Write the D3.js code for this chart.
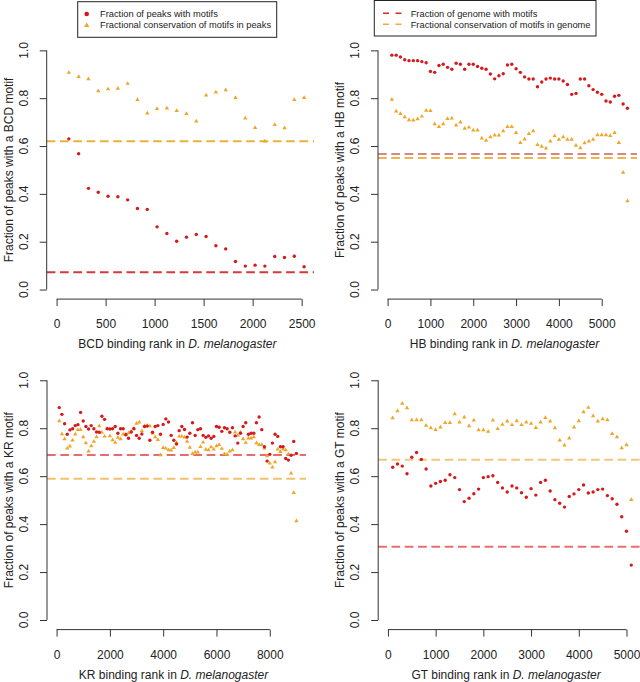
<!DOCTYPE html>
<html><head><meta charset="utf-8">
<script src="https://cdn.jsdelivr.net/npm/d3@7"></script>
<style>
body{margin:0;background:#fff}
svg{display:block}
text{font-family:"Liberation Sans",Arial,Helvetica,sans-serif;fill:#222}
</style>
</head><body>
<svg id="c" width="640" height="682"></svg>
<script>
// ---------------- DATA ----------------
const bcdRank = [125,225,325,425,525,625,725,825,925,1025,1125,1225,1325,1425,1525,1625,1725,1825,1925,2025,2125,2225,2325,2425,2525];
const bcdFrac = [0.630,0.568,0.423,0.407,0.390,0.388,0.375,0.339,0.335,0.262,0.234,0.202,0.219,0.230,0.222,0.183,0.170,0.117,0.098,0.102,0.098,0.138,0.134,0.139,0.095];
const bcdCons = [0.907,0.890,0.880,0.830,0.838,0.841,0.861,0.794,0.737,0.756,0.758,0.748,0.735,0.704,0.812,0.825,0.834,0.802,0.716,0.676,0.620,0.689,0.675,0.794,0.802];

const hbRank = [100,200,300,400,500,600,700,800,900,1000,1100,1200,1300,1400,1500,1600,1700,1800,1900,2000,2100,2200,2300,2400,2500,2600,2700,2800,2900,3000,3100,3200,3300,3400,3500,3600,3700,3800,3900,4000,4100,4200,4300,4400,4500,4600,4700,4800,4900,5000,5100,5200,5300,5400,5500,5600];
const hbFrac = [0.980,0.980,0.972,0.961,0.957,0.957,0.957,0.953,0.948,0.912,0.908,0.937,0.942,0.929,0.921,0.946,0.942,0.921,0.942,0.942,0.933,0.925,0.921,0.901,0.881,0.894,0.902,0.939,0.942,0.923,0.908,0.889,0.880,0.880,0.848,0.868,0.880,0.884,0.880,0.880,0.872,0.857,0.816,0.820,0.880,0.880,0.852,0.836,0.825,0.816,0.788,0.784,0.808,0.812,0.776,0.758];
const hbCons = [0.795,0.745,0.735,0.721,0.709,0.708,0.713,0.724,0.749,0.748,0.692,0.681,0.692,0.714,0.716,0.687,0.699,0.673,0.678,0.666,0.666,0.633,0.623,0.638,0.645,0.645,0.663,0.681,0.681,0.656,0.614,0.628,0.651,0.663,0.605,0.598,0.591,0.620,0.642,0.627,0.638,0.627,0.627,0.602,0.592,0.613,0.620,0.627,0.646,0.646,0.646,0.643,0.656,0.614,0.489,0.370];

const krRank = [100,200,300,400,500,600,700,800,900,1000,1100,1200,1300,1400,1500,1600,1700,1800,1900,2000,2100,2200,2300,2400,2500,2600,2700,2800,2900,3000,3100,3200,3300,3400,3500,3600,3700,3800,3900,4000,4100,4200,4300,4400,4500,4600,4700,4800,4900,5000,5100,5200,5300,5400,5500,5600,5700,5800,5900,6000,6100,6200,6300,6400,6500,6600,6700,6800,6900,7000,7100,7200,7300,7400,7500,7600,7700,7800,7900,8000,8100,8200,8300,8400,8500,8600,8700,8800,8900,9000];
const krFrac = [0.886,0.858,0.819,0.775,0.793,0.798,0.811,0.815,0.866,0.830,
                0.807,0.797,0.811,0.798,0.784,0.783,0.850,0.837,0.798,0.797,
                0.798,0.807,0.779,0.798,0.798,0.773,0.758,0.784,0.798,0.770,
                0.758,0.776,0.807,0.809,0.750,0.783,0.807,0.811,0.775,0.816,
                0.839,0.826,0.770,0.750,0.734,0.790,0.807,0.795,0.763,0.779,
                0.823,0.770,0.794,0.798,0.770,0.762,0.768,0.758,0.766,0.807,
                0.804,0.787,0.802,0.798,0.783,0.802,0.768,0.738,0.779,0.807,
                0.823,0.775,0.779,0.779,0.823,0.847,0.794,0.723,0.663,0.691,
                0.738,0.775,0.766,0.723,0.723,0.674,0.667,0.687,0.745,0.695];
const krCons = [0.830,0.776,0.755,0.716,0.725,0.750,0.775,0.794,0.794,0.763,
                0.738,0.704,0.726,0.745,0.763,0.809,0.782,0.766,0.798,0.768,
                0.751,0.740,0.761,0.755,0.775,0.775,0.780,0.786,0.800,0.820,
                0.825,0.789,0.809,0.811,0.809,0.779,0.763,0.752,0.688,0.719,
                0.716,0.709,0.708,0.719,0.740,0.766,0.766,0.762,0.745,0.720,
                0.694,0.700,0.700,0.723,0.741,0.711,0.709,0.722,0.712,0.726,
                0.731,0.715,0.693,0.690,0.704,0.709,0.783,0.770,0.783,0.755,
                0.740,0.758,0.758,0.763,0.738,0.731,0.731,0.716,0.684,0.654,
                0.637,0.659,0.712,0.702,0.712,0.709,0.693,0.612,0.531,0.413];

const gtRank = [100,200,300,400,500,600,700,800,900,1000,1100,1200,1300,1400,1500,1600,1700,1800,1900,2000,2100,2200,2300,2400,2500,2600,2700,2800,2900,3000,3100,3200,3300,3400,3500,3600,3700,3800,3900,4000,4100,4200,4300,4400,4500,4600,4700,4800,4900,5000,5100];
const gtFrac = [0.637,0.651,0.642,0.610,0.679,0.699,0.670,0.630,0.559,0.570,
                0.578,0.583,0.606,0.594,0.544,0.494,0.508,0.527,0.546,0.594,
                0.598,0.602,0.574,0.551,0.534,0.559,0.551,0.531,0.512,0.548,
                0.521,0.574,0.583,0.538,0.502,0.487,0.471,0.515,0.526,0.544,
                0.563,0.530,0.534,0.544,0.546,0.519,0.506,0.483,0.431,0.370,0.229];
const gtCons = [0.843,0.872,0.903,0.884,0.834,0.834,0.834,0.811,0.801,0.794,
                0.804,0.823,0.823,0.859,0.825,0.846,0.809,0.833,0.793,0.793,
                0.786,0.833,0.798,0.816,0.829,0.814,0.830,0.814,0.825,0.820,
                0.802,0.825,0.844,0.829,0.801,0.750,0.729,0.758,0.804,0.830,
                0.868,0.886,0.851,0.829,0.839,0.834,0.777,0.763,0.718,0.730,0.502];

// genome-wide reference levels [fraction of genome with motifs, fractional conservation in genome]
const bcdGenome = [0.072, 0.620];
const hbGenome  = [0.567, 0.550];
const krGenome  = [0.688, 0.589];
const gtGenome  = [0.306, 0.669];

const bcdTicks = [0,500,1000,1500,2000,2500];
const hbTicks  = [0,1000,2000,3000,4000,5000];
const krTicks  = [0,2000,4000,6000,8000];
const gtTicks  = [0,1000,2000,3000,4000,5000];
const yTicks   = [0,0.2,0.4,0.6,0.8,1.0];

const factors = ["BCD","HB","KR","GT"];
const legendPoints = ["Fraction of peaks with motifs","Fractional conservation of motifs in peaks"];
const legendLines  = ["Fraction of genome with motifs","Fractional conservation of motifs in genome"];

// ---------------- DRAWING ----------------
const svg = d3.select("#c");
const RED = "#d7191c", ORANGE = "#efa526";

const panels = [
  {name:factors[0], rank:bcdRank, frac:bcdFrac, cons:bcdCons, genome:bcdGenome, ticks:bcdTicks,
   x0:46.7, x1:314, y0:299.1, y1:40.8, redLine:"#d43a3a", yelLine:"#e8b23c"},
  {name:factors[1], rank:hbRank, frac:hbFrac, cons:hbCons, genome:hbGenome, ticks:hbTicks,
   x0:378, x1:637, y0:299.1, y1:40.8, redLine:"#da8585", yelLine:"#e9b650"},
  {name:factors[2], rank:krRank, frac:krFrac, cons:krCons, genome:krGenome, ticks:krTicks,
   x0:47, x1:306, y0:629.6, y1:370.7, redLine:"#e86a6a", yelLine:"#f4c070"},
  {name:factors[3], rank:gtRank, frac:gtFrac, cons:gtCons, genome:gtGenome, ticks:gtTicks,
   x0:378.2, x1:641, y0:629.6, y1:370.7, redLine:"#e87070", yelLine:"#f2c878"}
];

const tri = d3.symbol().type(d3.symbolTriangle).size(8);

panels.forEach(p => {
  const xmax = d3.max(p.rank);
  const x = d3.scaleLinear().domain([-0.04*xmax, 1.04*xmax]).range([p.x0, p.x1]);
  const y = d3.scaleLinear().domain([-0.04, 1.04]).range([p.y0, p.y1]);
  const g = svg.append("g");

  // genome reference lines
  g.append("line").attr("x1", p.x0).attr("x2", Math.min(p.x1,640))
    .attr("y1", y(p.genome[0])).attr("y2", y(p.genome[0]))
    .attr("stroke", p.redLine).attr("stroke-width", 2).attr("stroke-dasharray", "8.7 4.6");
  g.append("line").attr("x1", p.x0).attr("x2", Math.min(p.x1,640))
    .attr("y1", y(p.genome[1])).attr("y2", y(p.genome[1]))
    .attr("stroke", p.yelLine).attr("stroke-width", 2).attr("stroke-dasharray", "8.7 4.6");

  // points
  g.selectAll(".cons").data(p.rank.map((r,i)=>[r,p.cons[i]])).join("path")
    .attr("d", tri).attr("transform", d=>`translate(${x(d[0])},${y(d[1])})`)
    .attr("fill", ORANGE);
  g.selectAll(".frac").data(p.rank.map((r,i)=>[r,p.frac[i]])).join("circle")
    .attr("cx", d=>x(d[0])).attr("cy", d=>y(d[1])).attr("r", 1.7).attr("fill", RED);

  // x axis (R style)
  const xa = g.append("g").attr("transform", `translate(0,${p.y0})`)
    .call(d3.axisBottom(x).tickValues(p.ticks).tickSize(7).tickPadding(13.5).tickFormat(d3.format("d")));
  xa.select(".domain").remove();
  xa.append("line").attr("x1", x(p.ticks[0])).attr("x2", x(p.ticks[p.ticks.length-1]))
    .attr("stroke", "#333").attr("stroke-width", 1);
  xa.selectAll("line").attr("stroke", "#333");
  xa.selectAll("text").attr("font-size", 12).attr("fill", "#222")
    .style("font-family", '"Liberation Sans",Arial,sans-serif');

  // y axis
  const ya = g.append("g").attr("transform", `translate(${p.x0},0)`)
    .call(d3.axisLeft(y).tickValues(yTicks).tickSize(7).tickFormat(""));
  ya.select(".domain").remove();
  ya.append("line").attr("y1", y(0)).attr("y2", y(1)).attr("stroke", "#333");
  ya.selectAll("line").attr("stroke", "#333");
  yTicks.forEach(t => {
    g.append("text").attr("transform", `translate(${p.x0-19},${y(t)}) rotate(-90)`)
      .attr("text-anchor", "middle").attr("font-size", 12).text(d3.format(".1f")(t));
  });

  // titles
  const xt = g.append("text").attr("x", (p.x0+Math.min(p.x1,640))/2 - 3).attr("y", p.y0+49)
    .attr("text-anchor", "middle").attr("font-size", 12);
  xt.append("tspan").text(`${p.name} binding rank in `);
  xt.append("tspan").attr("font-style", "italic").text("D. melanogaster");
  g.append("text").attr("transform", `translate(${p.x0-34},${(p.y0+p.y1)/2}) rotate(-90)`)
    .attr("text-anchor", "middle").attr("font-size", 12)
    .text(`Fraction of peaks with a ${p.name} motif`);
});

// legend 1 (points)
const l1 = svg.append("g");
l1.append("rect").attr("x", 77.7).attr("y", 1.7).attr("width", 199).attr("height", 35.6)
  .attr("fill", "#fff").attr("stroke", "#222").attr("stroke-width", 1);
l1.append("circle").attr("cx", 86.7).attr("cy", 14).attr("r", 2.3).attr("fill", "#e3101a");
l1.append("path").attr("d", d3.symbol().type(d3.symbolTriangle).size(12)())
  .attr("transform", "translate(86.7,25.5)").attr("fill", ORANGE);
legendPoints.forEach((t,i) => l1.append("text").attr("x", 100).attr("y", 17.4 + i*11)
  .attr("font-size", 9.3).text(t));

// legend 2 (lines)
const l2 = svg.append("g");
l2.append("rect").attr("x", 374.3).attr("y", 0.5).attr("width", 221.7).attr("height", 35.5)
  .attr("fill", "#fff").attr("stroke", "#222").attr("stroke-width", 1);
[["#d42a2a",13.3],["#eeae3a",24.3]].forEach(([c,yy]) =>
  l2.append("line").attr("x1", 383).attr("x2", 401.7).attr("y1", yy).attr("y2", yy)
    .attr("stroke", c).attr("stroke-width", 1.6).attr("stroke-dasharray", "6 6.5"));
legendLines.forEach((t,i) => l2.append("text").attr("x", 410.7).attr("y", 17 + i*11)
  .attr("font-size", 9.3).text(t));
</script>
</body></html>
